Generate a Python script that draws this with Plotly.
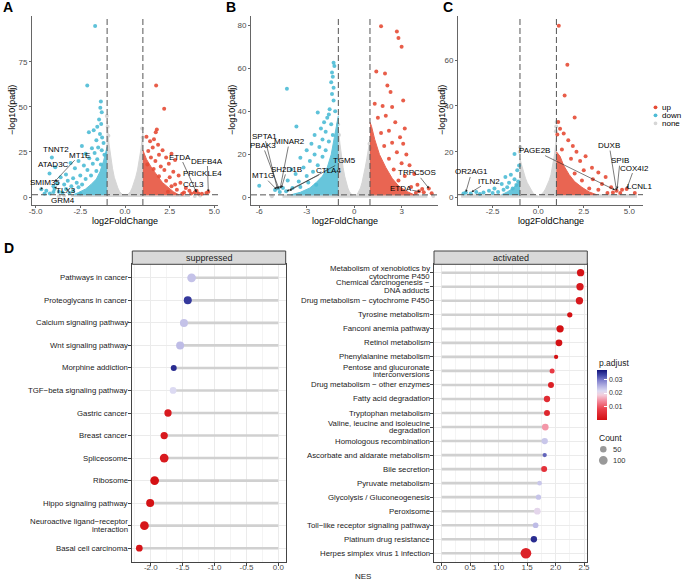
import plotly.graph_objects as go

W, H = 683, 581
FONT = "Liberation Sans, Arial, sans-serif"
RED, BLUE, GREY = "#E64B35", "#4DBBD5", "#D6D6D6"


def fx(px):
    return px / W


def fy(py):
    return 1 - py / H


# ---------------- Volcano data ----------------
# Panel A
a_up_x = [1.74, 2.19, 1.78, 1.72, 1.20, 1.62, 1.40, 1.85, 1.55, 2.10, 1.30, 2.60, 1.90, 2.30, 1.45, 2.80, 1.70, 2.45,
          2.00, 1.25, 2.20, 2.70, 1.60, 3.00, 2.50, 1.90, 2.30, 3.10, 2.80, 3.40, 3.60, 3.90, 4.10, 4.30, 4.66, 4.55,
          3.30, 2.90, 2.60, 3.70, 4.00, 2.40, 3.20]
a_up_y = [61.8, 49.0, 37.5, 36.0, 33.5, 32.0, 31.0, 29.0, 27.5, 26.0, 25.5, 24.0, 23.5, 22.0, 22.0, 20.5, 20.0, 18.5,
          17.0, 18.0, 15.0, 14.0, 15.5, 12.0, 11.0, 11.5, 9.0, 8.0, 7.0, 5.0, 3.5, 2.5, 2.0, 1.8, 2.9, 2.2,
          2.5, 4.0, 6.0, 2.0, 3.5, 3.0, 1.8]
a_down_x = [-1.67, -2.11, -1.35, -1.38, -1.30, -1.45, -1.33, -1.55, -1.75, -2.02, -1.40, -1.28, -1.60, -1.20, -2.41,
            -1.85, -1.50, -1.30, -2.20, -1.70, -1.15, -4.09, -2.00, -1.55, -2.60, -3.04, -1.80, -2.30, -1.35, -2.80,
            -3.90, -2.10, -1.60, -4.22, -3.30, -2.50, -1.90, -3.60, -2.90, -2.20, -3.20, -2.70, -3.80, -3.40, -4.00,
            -3.00, -4.68, -4.40, -3.94, -3.70, -4.20, -3.50, -4.50, -3.30, -2.90, -2.60, -2.40, -3.10, -4.00, -2.50]
a_down_y = [94.9, 61.8, 53.0, 49.5, 47.0, 43.0, 40.5, 39.0, 37.0, 36.0, 35.0, 33.0, 31.5, 30.0, 28.3,
            27.0, 27.5, 26.0, 24.0, 24.5, 23.5, 22.0, 21.5, 21.0, 20.0, 18.9, 18.5, 17.5, 18.0, 16.0,
            16.5, 15.0, 14.5, 13.0, 12.5, 12.0, 12.0, 11.0, 10.5, 10.0, 9.0, 8.0, 7.5, 7.0, 6.0,
            6.0, 4.4, 3.5, 4.5, 3.0, 2.0, 2.5, 1.8, 4.5, 3.5, 5.5, 7.0, 2.2, 2.8, 2.0]
a_up_core_x = [1.0, 3.0, 2.7, 2.4, 2.1, 1.8, 1.5, 1.2, 1.05, 1.0]
a_up_core_y = [1.3, 1.3, 3.0, 5.5, 8.0, 12.0, 16.0, 21.0, 25.0, 26.0]
a_down_core_x = [-1.0, -2.9, -2.6, -2.2, -1.9, -1.6, -1.4, -1.2, -1.05, -1.0]
a_down_core_y = [1.3, 1.3, 2.5, 4.5, 7.0, 10.0, 14.0, 20.0, 26.0, 28.0]
a_none_x = [-3.0, -3.0, -1.0, -1.0, -0.9, -0.8, -0.7, -0.6, -0.5, -0.4, -0.3, -0.2, -0.1, 0.0, 0.1, 0.2, 0.3, 0.4,
            0.5, 0.6, 0.7, 0.8, 0.9, 1.0, 1.0, 3.6, 3.6]
a_none_y = [0.0, 1.25, 1.25, 42.0, 30.0, 22.0, 16.0, 11.0, 7.5, 5.0, 3.0, 1.8, 1.0, 0.8, 1.0, 1.8, 3.0, 5.0,
            7.5, 11.0, 15.0, 20.0, 27.0, 36.0, 1.25, 1.25, 0.0]
a_none_px = [-1.02, -0.97, -0.93, 0.96, 0.99, -3.4, -3.7, 3.9, 4.2]
a_none_py = [45.0, 39.0, 34.0, 38.0, 33.0, 0.8, 0.5, 0.6, 0.9]
a_genes = ["TNNT2", "ATAD3C", "MT1E", "SMIM35", "TLX3", "GRM4", "ETDA", "DEFB4A", "PRICKLE4", "CCL3"]
a_lab_x = [-3.84, -4.00, -2.55, -4.45, -3.30, -3.47, 3.10, 4.60, 4.35, 3.84]
a_lab_y = [26.5, 18.2, 23.2, 7.9, 3.9, -1.8, 22.2, 20.0, 13.1, 7.0]
a_pt_x = [None, None, -3.94, -4.72, -3.96, -4.15, 3.98, 4.66, None, 4.00]
a_pt_y = [None, None, 8.5, 4.0, 5.5, 0.8, 3.0, 2.9, None, 2.5]

# Panel B
b_up_x = [1.70, 2.70, 2.80, 3.00, 1.40, 1.95, 2.10, 2.30, 3.10, 1.30, 1.80, 2.40, 2.00, 1.50, 2.60, 3.20, 2.20, 1.70,
          2.90, 3.10, 2.40, 1.90, 2.70, 3.30, 2.20, 3.00, 3.50, 2.50, 3.80, 3.20, 2.80, 4.00, 3.60, 4.30, 4.72, 4.40,
          4.10, 3.90, 4.90]
b_up_y = [79.5, 77.0, 74.0, 70.0, 58.5, 57.5, 52.0, 49.0, 45.0, 43.5, 42.5, 42.0, 38.0, 37.0, 35.0, 32.0, 31.0, 30.0,
          28.0, 25.0, 25.5, 24.0, 21.0, 20.0, 18.0, 16.0, 15.0, 13.0, 11.0, 10.0, 8.0, 6.0, 5.0, 4.0, 4.3, 2.5,
          3.0, 2.2, 2.0]
b_down_x = [-1.30, -1.25, -1.40, -1.35, -1.45, -1.30, -1.40, -1.30, -4.25, -1.55, -1.20, -1.60, -2.30, -1.70, -1.90,
            -3.65, -1.45, -2.10, -1.80, -2.50, -1.35, -2.00, -2.70, -1.60, -2.20, -3.00, -1.80, -2.50, -3.40, -2.00,
            -2.80, -3.96, -2.30, -3.20, -3.70, -2.60, -3.00, -4.20, -3.50, -2.90, -6.00, -4.50, -4.80, -4.30, -3.90,
            -3.40, -4.70, -5.00, -2.40]
b_down_y = [62.5, 61.0, 58.0, 56.0, 53.5, 51.0, 48.0, 45.0, 50.5, 41.0, 40.0, 38.5, 39.5, 37.0, 35.0,
            33.0, 34.0, 32.0, 30.5, 29.0, 29.0, 27.0, 25.0, 26.0, 23.5, 22.0, 22.0, 20.0, 18.5, 19.0,
            17.0, 13.0, 15.0, 14.0, 11.0, 12.0, 10.0, 8.0, 7.5, 7.0, 5.5, 4.5, 4.3, 3.0, 4.5,
            5.0, 2.6, 3.5, 6.0]
b_up_core_x = [1.0, 3.8, 3.3, 2.8, 2.4, 2.0, 1.6, 1.3, 1.1, 1.0]
b_up_core_y = [1.3, 1.3, 3.0, 5.5, 9.0, 14.0, 20.0, 27.0, 33.0, 35.0]
b_down_core_x = [-1.0, -4.0, -3.4, -2.8, -2.4, -2.0, -1.7, -1.45, -1.25, -1.1, -1.0]
b_down_core_y = [1.3, 1.3, 2.5, 4.5, 7.0, 10.0, 14.0, 20.0, 28.0, 35.0, 38.0]
b_none_x = [-4.5, -4.5, -1.0, -1.0, -0.9, -0.8, -0.7, -0.6, -0.5, -0.4, -0.3, -0.2, -0.1, 0.0, 0.1, 0.2, 0.3, 0.4,
            0.5, 0.6, 0.7, 0.8, 0.9, 1.0, 1.0, 4.6, 4.6]
b_none_y = [0.0, 1.25, 1.25, 32.0, 25.0, 19.0, 14.0, 10.0, 7.0, 4.5, 2.8, 1.6, 0.9, 0.7, 0.9, 1.6, 2.8, 4.5,
            7.0, 10.0, 14.0, 18.0, 22.0, 27.0, 1.25, 1.25, 0.0]
b_none_px = [-1.02, -0.96, 0.97, 1.02, -5.2, 5.0]
b_none_py = [34.0, 29.0, 25.0, 23.0, 0.7, 0.8]
b_genes = ["SPTA1", "PBAK3", "MINAR2", "SH2D1B", "MT1G", "CTLA4", "TGM5", "TRPC5OS", "ETDA"]
b_lab_x = [-5.68, -5.78, -4.10, -4.25, -5.75, -1.60, -0.62, 3.95, 2.94]
b_lab_y = [28.5, 24.2, 26.0, 13.1, 10.2, 12.8, 17.2, 11.5, 4.3]
b_pt_x = [-4.85, -4.75, -4.68, -4.60, -4.90, -4.27, -4.10, 4.73, 4.18]
b_pt_y = [4.0, 4.0, 4.2, 4.5, 3.8, 3.0, 3.2, 4.3, 2.8]

# Panel C
c_up_x = [1.13, 1.60, 1.45, 2.00, 1.10, 1.20, 1.40, 1.05, 1.65, 1.90, 2.10, 1.30, 2.60, 2.30, 1.80, 2.95, 2.50, 3.30,
          2.00, 3.70, 3.00, 2.40, 3.50, 4.00, 3.30, 4.30, 4.60, 4.85, 5.30, 4.10, 3.80, 2.80, 4.50]
c_up_y = [74.9, 58.0, 44.5, 35.0, 33.0, 30.0, 28.0, 27.5, 25.0, 22.5, 20.0, 21.0, 18.0, 16.0, 17.0, 13.0, 12.0, 11.0,
          10.5, 9.0, 8.0, 7.5, 6.0, 4.5, 3.5, 3.0, 3.5, 3.8, 2.0, 2.2, 2.0, 4.0, 2.0]
c_down_x = [-1.30, -1.05, -1.15, -1.50, -1.80, -1.30, -2.00, -1.60, -1.20, -2.40, -2.70, -3.00, -3.40, -3.70, -3.97,
            -4.10, -3.20, -2.20, -1.90, -1.40, -1.10, -1.70, -2.50]
c_down_y = [19.0, 14.0, 12.0, 10.0, 9.0, 8.0, 6.0, 6.5, 5.5, 4.0, 3.0, 2.2, 2.5, 1.8, 2.2,
            1.8, 1.6, 2.5, 3.5, 4.0, 7.0, 4.5, 2.0]
c_up_core_x = [1.0, 3.2, 2.8, 2.4, 2.0, 1.7, 1.4, 1.2, 1.0]
c_up_core_y = [1.3, 1.3, 2.5, 4.5, 7.0, 10.0, 14.0, 18.0, 20.0]
c_down_core_x = [-1.0, -2.0, -1.7, -1.4, -1.15, -1.0]
c_down_core_y = [1.3, 1.3, 2.5, 4.0, 6.0, 7.0]
c_none_x = [-4.2, -4.2, -1.0, -1.0, -0.9, -0.8, -0.7, -0.6, -0.5, -0.4, -0.3, -0.2, -0.1, 0.0, 0.1, 0.2, 0.3, 0.4,
            0.5, 0.6, 0.7, 0.8, 0.9, 1.0, 1.0, 5.4, 5.4]
c_none_y = [0.0, 1.25, 1.25, 17.0, 14.0, 11.0, 8.5, 6.5, 5.0, 3.5, 2.3, 1.4, 0.8, 0.6, 0.8, 1.5, 2.5, 3.8,
            5.5, 7.5, 10.0, 14.0, 19.0, 26.0, 1.25, 1.25, 0.0]
c_none_px = [-1.02, -0.98, 0.97, 1.01, 0.99]
c_none_py = [20.0, 22.0, 29.0, 33.0, 31.0]
c_genes = ["OR2AG1", "ITLN2", "PAGE2B", "DUXB", "SPIB", "COX4I2", "LCNL1"]
c_lab_x = [-3.65, -2.68, -0.18, 3.90, 4.49, 5.27, 5.55]
c_lab_y = [11.2, 7.2, 20.5, 22.7, 16.1, 12.9, 4.7]
c_pt_x = [-3.97, -3.66, 4.22, 4.30, 4.33, 4.86, 4.88]
c_pt_y = [2.4, 2.5, 3.3, 3.0, 3.8, 3.9, 3.5]

# ---------------- GSEA lollipop data ----------------
sup_terms = ["Pathways in cancer", "Proteoglycans in cancer", "Calcium signaling pathway", "Wnt signaling pathway",
             "Morphine addiction", "TGF\u2212beta signaling pathway", "Gastric cancer", "Breast cancer",
             "Spliceosome", "Ribosome", "Hippo signaling pathway",
             "Neuroactive ligand\u2212receptor\ninteraction", "Basal cell carcinoma"]
sup_nes = [-1.36, -1.42, -1.48, -1.54, -1.64, -1.65, -1.73, -1.79, -1.79, -1.94, -2.01, -2.10, -2.18]
sup_padj = [0.0237, 0.0340, 0.0237, 0.0242, 0.0350, 0.0215, 0.0022, 0.0020, 0.0022, 0.0005, 0.0008, 0.0015, 0.0012]
sup_count = [100, 82, 82, 82, 40, 54, 66, 66, 100, 100, 82, 100, 54]

act_terms = ["Metabolism of xenobiotics by\ncytochrome P450", "Chemical carcinogenesis \u2212\nDNA adducts",
             "Drug metabolism \u2212 cytochrome P450", "Tyrosine metabolism", "Fanconi anemia pathway",
             "Retinol metabolism", "Phenylalanine metabolism", "Pentose and glucuronate\ninterconversions",
             "Drug metabolism \u2212 other enzymes", "Fatty acid degradation", "Tryptophan metabolism",
             "Valine, leucine and isoleucine\ndegradation", "Homologous recombination",
             "Ascorbate and aldarate metabolism", "Bile secretion", "Pyruvate metabolism",
             "Glycolysis / Gluconeogenesis", "Peroxisome", "Toll\u2212like receptor signaling pathway",
             "Platinum drug resistance", "Herpes simplex virus 1 infection"]
act_nes = [2.44, 2.43, 2.42, 2.25, 2.08, 2.06, 2.01, 1.94, 1.92, 1.85, 1.85, 1.82, 1.81, 1.81, 1.80, 1.72, 1.70,
           1.68, 1.65, 1.62, 1.48]
act_padj = [0.0010, 0.0020, 0.0020, 0.0006, 0.0006, 0.0007, 0.0006, 0.0075, 0.0030, 0.0050, 0.0042, 0.0150, 0.0232,
            0.0310, 0.0060, 0.0232, 0.0235, 0.0205, 0.0242, 0.0350, 0.0035]
act_count = [66, 66, 66, 28, 66, 55, 14, 24, 40, 46, 40, 54, 46, 14, 40, 19, 28, 54, 35, 46, 157]

count_legend = [50, 100]
padj_ticks = [0.01, 0.02, 0.03]

CMIN, CMAX = 0.0003, 0.0368
COLORSCALE = [[0.0, "#d30f12"], [0.22, "#ea3f4a"], [0.38, "#f38a9c"], [0.50, "#f3cfdc"], [0.58, "#dcdaf2"],
              [0.68, "#b4b2e2"], [0.80, "#7c7ccb"], [0.90, "#3f45a6"], [1.0, "#13137a"]]


def dot_size(c):
    return (9 + 0.67 * c) ** 0.5


fig = go.Figure()

# ---------------- volcano panels ----------------
volc = [
    ("x", "y", a_none_x, a_none_y, a_none_px, a_none_py, a_down_core_x, a_down_core_y, a_down_x, a_down_y,
     a_up_core_x, a_up_core_y, a_up_x, a_up_y),
    ("x2", "y2", b_none_x, b_none_y, b_none_px, b_none_py, b_down_core_x, b_down_core_y, b_down_x, b_down_y,
     b_up_core_x, b_up_core_y, b_up_x, b_up_y),
    ("x3", "y3", c_none_x, c_none_y, c_none_px, c_none_py, c_down_core_x, c_down_core_y, c_down_x, c_down_y,
     c_up_core_x, c_up_core_y, c_up_x, c_up_y),
]
for (xa, ya, nx, ny, npx, npy, dcx, dcy, dx, dy, ucx, ucy, ux, uy) in volc:
    fig.add_trace(go.Scatter(x=nx, y=ny, xaxis=xa, yaxis=ya, mode="lines", fill="toself", fillcolor=GREY,
                             line=dict(color=GREY, width=1), hoverinfo="skip", showlegend=False))
    fig.add_trace(go.Scatter(x=npx, y=npy, xaxis=xa, yaxis=ya, mode="markers",
                             marker=dict(color=GREY, size=4), hoverinfo="skip", showlegend=False))
    for cx, cy, col in ((dcx, dcy, BLUE), (ucx, ucy, RED)):
        fig.add_trace(go.Scatter(x=cx, y=cy, xaxis=xa, yaxis=ya, mode="lines", fill="toself", fillcolor=col,
                                 line=dict(color=col, width=1), opacity=0.85, hoverinfo="skip", showlegend=False))
    for px_, py_, col in ((dx, dy, BLUE), (ux, uy, RED)):
        fig.add_trace(go.Scatter(x=px_, y=py_, xaxis=xa, yaxis=ya, mode="markers",
                                 marker=dict(color=col, size=4, opacity=0.9), hoverinfo="skip", showlegend=False))

# ---------------- lollipop panels ----------------
for xa, ya, nes, padj, cnt in (("x4", "y4", sup_nes, sup_padj, sup_count),
                               ("x5", "y5", act_nes, act_padj, act_count)):
    lx, ly = [], []
    for i, v in enumerate(nes):
        lx += [0, v, None]
        ly += [i + 1, i + 1, None]
    fig.add_trace(go.Scatter(x=lx, y=ly, xaxis=xa, yaxis=ya, mode="lines",
                             line=dict(color="#d0d0d0", width=2.6), hoverinfo="skip", showlegend=False))
    fig.add_trace(go.Scatter(x=nes, y=list(range(1, len(nes) + 1)), xaxis=xa, yaxis=ya, mode="markers",
                             marker=dict(color=padj, coloraxis="coloraxis", size=[dot_size(c) for c in cnt],
                                         line=dict(width=0), opacity=1),
                             hoverinfo="skip", showlegend=False))

# ---------------- axes ----------------
tickfont = dict(family=FONT, size=8, color="#4d4d4d")


def volc_axes(xdom, xr, xt, xtt, yr, yt, ax, ay):
    xa = dict(domain=[fx(xdom[0]), fx(xdom[1])], range=xr, tickvals=xt, ticktext=xtt, anchor=ay,
              showline=True, linecolor="#666", linewidth=1, ticks="outside", ticklen=2, tickcolor="#666",
              showgrid=False, zeroline=False, tickfont=tickfont, automargin=False, ticklabelstandoff=-4)
    ya = dict(domain=[fy(205), fy(16)], range=yr, tickvals=yt, ticktext=[f"{v}" for v in yt], anchor=ax,
              showline=True, linecolor="#666", linewidth=1, ticks="outside", ticklen=2, tickcolor="#666",
              showgrid=False, zeroline=False, tickfont=tickfont, automargin=False)
    return xa, ya


xa1, ya1 = volc_axes((32, 218), [-5.2, 5.2], [-5.0, -2.5, 0.0, 2.5, 5.0], ["-5.0", "-2.5", "0.0", "2.5", "5.0"],
                     [-4.4, 100.4], [0, 25, 50, 75], "x", "y")
xa2, ya2 = volc_axes((251, 438), [-6.52, 5.3], [-6, -3, 0, 3], ["-6", "-3", "0", "3"],
                     [-3.4, 84.2], [0, 20, 40, 60, 80], "x2", "y2")
xa3, ya3 = volc_axes((458, 643), [-4.4, 5.75], [-2.5, 0.0, 2.5, 5.0], ["-2.5", "0.0", "2.5", "5.0"],
                     [-3.2, 79.2], [0, 20, 40, 60], "x3", "y3")


def lolli_axes(xdom, xr, xt, xtt, n, anchor_x, anchor_y):
    xa = dict(domain=[fx(xdom[0]), fx(xdom[1])], range=xr, tickvals=xt, ticktext=xtt, anchor=anchor_y,
              showline=True, mirror=True, linecolor="#444", linewidth=1, ticks="outside", ticklen=3,
              tickcolor="#444", showgrid=True, gridcolor="#ebebeb", gridwidth=0.8, zeroline=False,
              minor=dict(dtick=0.25, tick0=0, showgrid=True, gridcolor="#f4f4f4", gridwidth=0.5),
              tickfont=tickfont, automargin=False, ticklabelstandoff=-5)
    ya = dict(domain=[fy(561.7), fy(264.3)], range=[n + 0.6, 0.4], tickvals=list(range(1, n + 1)),
              showticklabels=False, anchor=anchor_x,
              showline=True, mirror=True, linecolor="#444", linewidth=1, ticks="outside", ticklen=3,
              tickcolor="#444", showgrid=True, gridcolor="#ebebeb", gridwidth=0.8, zeroline=False,
              automargin=False)
    return xa, ya


xa4, ya4 = lolli_axes((132.3, 285.7), [-2.29, 0.116], [-2.0, -1.5, -1.0, -0.5, 0.0],
                      ["-2.0", "-1.5", "-1.0", "-0.5", "0.0"], len(sup_terms), "x4", "y4")
xa5, ya5 = lolli_axes((434, 587.3), [-0.135, 2.558], [0.0, 0.5, 1.0, 1.5, 2.0, 2.5],
                      ["0.0", "0.5", "1.0", "1.5", "2.0", "2.5"], len(act_terms), "x5", "y5")

# ---------------- shapes ----------------
shapes = []
for xa, ya in (("x", "y"), ("x2", "y2"), ("x3", "y3")):
    for xv in (-1, 1):
        shapes.append(dict(type="line", xref=xa, yref=ya + " domain", x0=xv, x1=xv, y0=0, y1=1,
                           line=dict(color="#555", width=1, dash="6px,3px"), layer="above"))
    shapes.append(dict(type="line", xref=xa + " domain", yref=ya, x0=0, x1=1, y0=1.3, y1=1.3,
                       line=dict(color="#555", width=1, dash="6px,3px"), layer="above"))

for x0, x1 in ((132.3, 285.7), (434, 587.3)):
    shapes.append(dict(type="rect", xref="paper", yref="paper", x0=fx(x0), x1=fx(x1), y0=fy(264.3), y1=fy(251),
                       fillcolor="#d9d9d9", line=dict(color="#444", width=1)))

# volcano legend dots
for py, col in ((107.3, RED), (115.3, BLUE), (123.3, GREY)):
    r = 1.9
    shapes.append(dict(type="circle", xref="paper", yref="paper", x0=fx(655.5 - r), x1=fx(655.5 + r),
                       y0=fy(py + r), y1=fy(py - r), fillcolor=col, line=dict(width=0)))
# count legend circles
for py, c in zip((449.3, 460.3), count_legend):
    r = dot_size(c) / 2
    shapes.append(dict(type="circle", xref="paper", yref="paper", x0=fx(603.3 - r), x1=fx(603.3 + r),
                       y0=fy(py + r), y1=fy(py - r), fillcolor="#999999", line=dict(width=0)))

# ---------------- annotations ----------------
ann = []


def txt(px, py, s, size=8, color="#000", xanchor="center", yanchor="middle", bold=False, angle=0):
    ann.append(dict(xref="paper", yref="paper", x=fx(px), y=fy(py), text=f"<b>{s}</b>" if bold else s,
                    showarrow=False, xanchor=xanchor, yanchor=yanchor, textangle=angle, borderpad=0,
                    font=dict(family=FONT, size=size, color=color)))


for s, px, py in (("A", 2, 7.5), ("B", 225, 7.5), ("C", 442, 7.5), ("D", 3, 247.5)):
    txt(px, py, s, size=14, xanchor="left", bold=True)

for xc, xl in ((125, 12), (344.5, 232), (550.5, 442)):
    txt(xc, 221, "log2FoldChange", size=9)
    txt(xl, 110, "\u2212log10(padj)", size=9, angle=-90)

for py, s in ((107.3, "up"), (115.3, "down"), (123.3, "none")):
    txt(660.5, py, s, size=8, xanchor="left")

txt(209, 257.7, "suppressed", size=9, color="#1a1a1a")
txt(510.6, 257.7, "activated", size=9, color="#1a1a1a")
txt(362.7, 576.7, "NES", size=8, color="#1a1a1a")
txt(598, 362.7, "p.adjust", size=8.5, color="#1a1a1a", xanchor="left")
txt(598, 437.7, "Count", size=8.5, color="#1a1a1a", xanchor="left")
for py, c in zip((449.3, 460.3), count_legend):
    txt(612, py, str(c), size=7.5, color="#333", xanchor="left")

# pathway labels placed at their rows through the y axes (tight line spacing like the reference)
for xa, ya, terms in (("x4", "y4", sup_terms), ("x5", "y5", act_terms)):
    for i, term in enumerate(terms):
        lines = term.split("\n")
        for k, line in enumerate(lines):
            ann.append(dict(xref=xa + " domain", yref=ya, x=0, y=i + 1, xanchor="right", yanchor="middle",
                            xshift=-3.5, yshift=((len(lines) - 1) / 2 - k) * 7.8, text=line, showarrow=False,
                            borderpad=0, font=dict(family=FONT, size=7.8, color="#1a1a1a")))

for xa, ya, genes, lx, ly, ptx, pty in (("x", "y", a_genes, a_lab_x, a_lab_y, a_pt_x, a_pt_y),
                                        ("x2", "y2", b_genes, b_lab_x, b_lab_y, b_pt_x, b_pt_y),
                                        ("x3", "y3", c_genes, c_lab_x, c_lab_y, c_pt_x, c_pt_y)):
    for g, tx, ty, qx, qy in zip(genes, lx, ly, ptx, pty):
        if qx is None:
            ann.append(dict(xref=xa, yref=ya, x=tx, y=ty, text=g, showarrow=False, borderpad=0,
                            font=dict(family=FONT, size=8, color="#000")))
        else:
            ann.append(dict(xref=xa, yref=ya, x=qx, y=qy, ax=tx, ay=ty, axref=xa, ayref=ya, text=g,
                            showarrow=True, arrowhead=2, arrowsize=0.8, arrowwidth=0.6, arrowcolor="#222",
                            standoff=0, startstandoff=0, borderpad=0,
                            font=dict(family=FONT, size=8, color="#000")))

fig.update_layout(
    template="none",
    width=W, height=H, margin=dict(l=0, r=0, t=0, b=0, pad=0),
    paper_bgcolor="white", plot_bgcolor="white",
    font=dict(family=FONT, size=8, color="#000"),
    xaxis=xa1, yaxis=ya1, xaxis2=xa2, yaxis2=ya2, xaxis3=xa3, yaxis3=ya3,
    xaxis4=xa4, yaxis4=ya4, xaxis5=xa5, yaxis5=ya5,
    coloraxis=dict(colorscale=COLORSCALE, cmin=CMIN, cmax=CMAX,
                   colorbar=dict(x=fx(597.3), xanchor="left", y=fy(420), yanchor="bottom",
                                 len=50 / H, lenmode="fraction", thickness=10, thicknessmode="pixels",
                                 outlinewidth=0, xpad=0, ypad=0, tickvals=padj_ticks,
                                 ticktext=[f"{v:.2f}" for v in padj_ticks], ticks="inside", ticklen=3,
                                 tickcolor="white", tickfont=dict(family=FONT, size=7, color="#333"))),
    shapes=shapes, annotations=ann, showlegend=False,
)

fig.write_html("out.html")
